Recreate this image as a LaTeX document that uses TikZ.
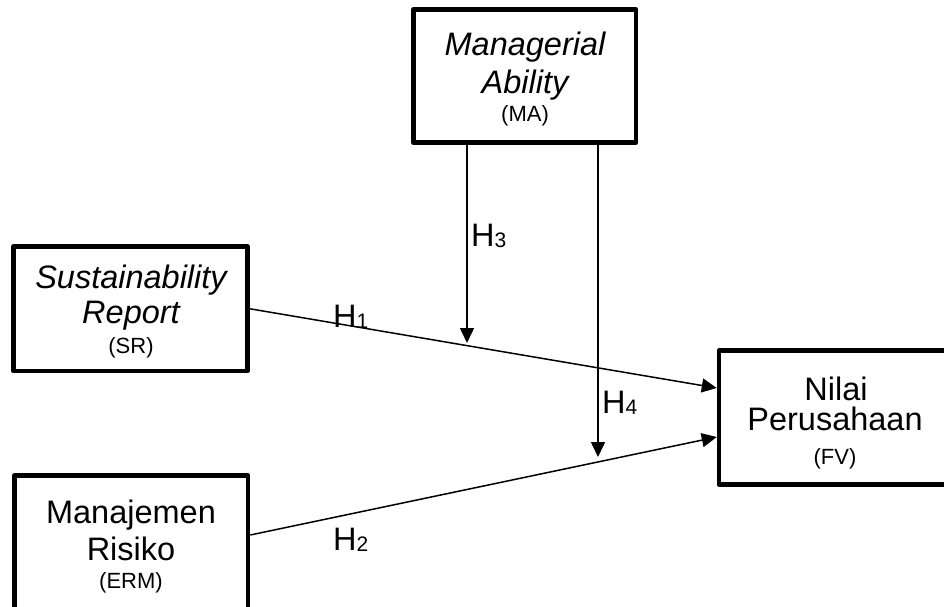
\documentclass[tikz,border=0pt]{standalone}
\usepackage{fontspec}
\setmainfont{Liberation Sans}
\usetikzlibrary{arrows.meta}
\begin{document}
\begin{tikzpicture}[x=1pt,y=-1pt,
  box/.style={draw, rectangle, line width=4.5pt, inner sep=0pt, line join=round},
  arr/.style={line width=1.5pt, -{Triangle[length=15pt,width=14pt]}},
  big/.style={font=\fontsize{32.5}{32.5}\selectfont, inner sep=0pt, anchor=base},
  bigit/.style={font=\fontsize{32.5}{32.5}\selectfont\itshape, inner sep=0pt, anchor=base},
  small/.style={font=\fontsize{22}{22}\selectfont, inner sep=0pt, anchor=base},
  hlab/.style={font=\fontsize{32.5}{32.5}\selectfont, inner sep=0pt, anchor=base west}]
\clip (0,0) rectangle (944,606);
\fill[white] (0,0) rectangle (944,606);
% boxes
\node[box, minimum width=222.5pt, minimum height=133pt] (MA) at (524.75,76) {};
\node[box, minimum width=234pt, minimum height=124.5pt] (SR) at (130.5,308.75) {};
\node[box, minimum width=233.5pt, minimum height=164.5pt] (ERM) at (131.25,557.75) {};
\node[box, minimum width=281pt, minimum height=134pt] (FV) at (859.5,417.5) {};
% texts
\node[bigit] (ma1) at (525,55) {Managerial};
\node[bigit] (ma2) at (525,93) {Ability};
\node[small] (ma3) at (525,121) {(MA)};
\node[bigit] (sr1) at (131,288) {Sustainability};
\node[bigit] (sr2) at (131,323) {Report};
\node[small] (sr3) at (131,353) {(SR)};
\node[big] (erm1) at (131,523) {Manajemen};
\node[big] (erm2) at (131,560) {Risiko};
\node[small] (erm3) at (131,588) {(ERM)};
\node[big] (fv1) at (836,400) {Nilai};
\node[big] (fv2) at (835,430) {Perusahaan};
\node[small] (fv3) at (835,464) {(FV)};
% connectors
\coordinate (m1) at (467,343);
\coordinate (m2) at (598,457);
\draw[arr] (SR.east) -- ([yshift=29.5pt]FV.west);
\draw[arr] ([yshift=22.75pt]ERM.east) -- ([yshift=-19.5pt]FV.west);
\draw[arr] (m1 |- MA.south) -- (m1);
\draw[arr] (m2 |- MA.south) -- (m2);
% labels
\node[hlab] (h1) at (333,327) {H\raisebox{-1.5pt}{\fontsize{21}{21}\selectfont 1}};
\node[hlab] (h2) at (333,550) {H\raisebox{-1.5pt}{\fontsize{21}{21}\selectfont 2}};
\node[hlab] (h3) at (471,246) {H\raisebox{-1.5pt}{\fontsize{21}{21}\selectfont 3}};
\node[hlab] (h4) at (602,413) {H\raisebox{-1.5pt}{\fontsize{21}{21}\selectfont 4}};
\end{tikzpicture}
\end{document}
